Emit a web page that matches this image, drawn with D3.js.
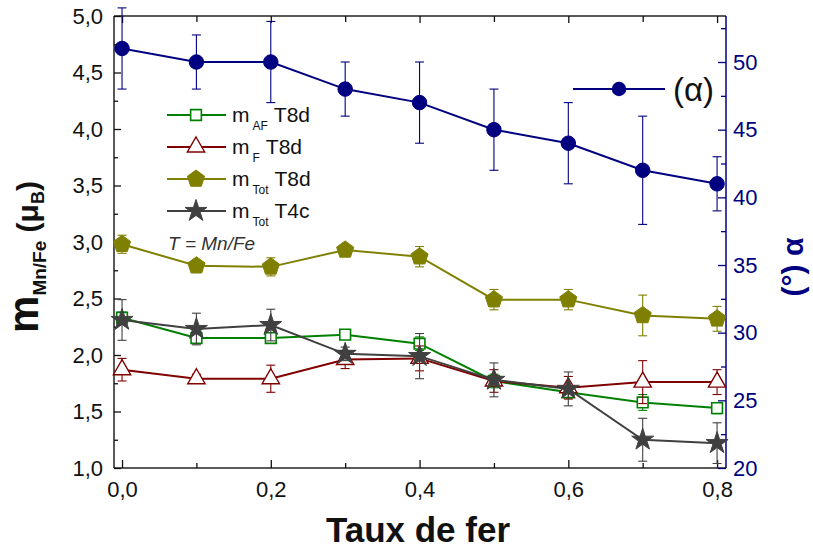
<!DOCTYPE html>
<html><head><meta charset="utf-8">
<script src="https://cdn.jsdelivr.net/npm/d3@7"></script>
<style>
html,body{margin:0;padding:0;background:#fff;}
svg{display:block;font-family:"Liberation Sans",Arial,sans-serif;}
</style></head>
<body><svg id="c" width="813" height="556"></svg>
<script>
// ---- data ----
const fe = [0, 0.1, 0.2, 0.3, 0.4, 0.5, 0.6, 0.7, 0.8];
const alpha = [51, 50, 50, 48, 47, 45, 44, 42, 41];
const alphaErr = [3, 2, 3, 2, 3, 3, 3, 4, 2];
const mAF = [2.33, 2.15, 2.15, 2.18, 2.10, 1.77, 1.67, 1.58, 1.53];
const mAFErr = [0.05, 0.04, 0.04, 0.04, 0.06, 0.06, 0.05, 0.07, 0.05];
const mF = [1.87, 1.79, 1.79, 1.96, 1.97, 1.77, 1.71, 1.76, 1.76];
const mFErr = [0.10, 0.04, 0.12, 0.08, 0.11, 0.10, 0.10, 0.19, 0.11];
const mTot8 = [2.98, 2.79, 2.78, 2.93, 2.87, 2.49, 2.49, 2.35, 2.32];
const mTot8Err = [0.08, 0.05, 0.08, 0.04, 0.09, 0.09, 0.09, 0.18, 0.11];
const mTot4 = [2.31, 2.23, 2.265, 2.01, 1.99, 1.78, 1.70, 1.25, 1.22];
const mTot4Err = [0.18, 0.14, 0.14, 0.06, 0.20, 0.15, 0.15, 0.19, 0.18];
const xMajor = [0, 0.2, 0.4, 0.6, 0.8];
const xMinor = [0.1, 0.3, 0.5, 0.7];
const xTickLabels = ["0,0", "0,2", "0,4", "0,6", "0,8"];
const yLMajor = [1, 1.5, 2, 2.5, 3, 3.5, 4, 4.5, 5];
const yLMinor = [1.25, 1.75, 2.25, 2.75, 3.25, 3.75, 4.25, 4.75];
const yLTickLabels = ["1,0", "1,5", "2,0", "2,5", "3,0", "3,5", "4,0", "4,5", "5,0"];
const yRMajor = [20, 25, 30, 35, 40, 45, 50];
const yRMinor = [22.5, 27.5, 32.5, 37.5, 42.5, 47.5, 52.5];

// ---- setup ----
const svg = d3.select("#c");
const L = 114, R = 726, T = 16, B = 468;
const x = d3.scaleLinear().domain([-0.0108, 0.812]).range([L, R]);
const yL = d3.scaleLinear().domain([1, 5]).range([B, T]);
const yR = d3.scaleLinear().domain([20, 53.4]).range([B, T]);
const NAVY = "#000080";

// frame lines
svg.append("line").attr("x1", L).attr("x2", R).attr("y1", T).attr("y2", T).attr("stroke", "#222").attr("stroke-width", 1.5);
svg.append("line").attr("x1", L).attr("x2", R).attr("y1", B).attr("y2", B).attr("stroke", "#222").attr("stroke-width", 1.5);
svg.append("line").attr("x1", L).attr("x2", L).attr("y1", T).attr("y2", B).attr("stroke", "#222").attr("stroke-width", 1.5);
svg.append("line").attr("x1", R).attr("x2", R).attr("y1", T).attr("y2", B).attr("stroke", NAVY).attr("stroke-width", 1.5);

function styleAxis(g, color, fs) {
  g.select(".domain").remove();
  g.selectAll(".tick line").attr("stroke", color).attr("stroke-width", 1.3);
  g.selectAll(".tick text").attr("fill", color).attr("font-size", fs).attr("font-family", "Liberation Sans, Arial, sans-serif");
}
// bottom
const gb = svg.append("g").attr("transform", `translate(0,${B})`)
  .call(d3.axisBottom(x).tickValues(xMajor).tickSize(-8).tickPadding(13).tickFormat((d, i) => xTickLabels[i]));
styleAxis(gb, "#111", 22);
const gbm = svg.append("g").attr("transform", `translate(0,${B})`)
  .call(d3.axisBottom(x).tickValues(xMinor).tickSize(-5).tickFormat(""));
styleAxis(gbm, "#111", 22);
// top
const gt = svg.append("g").attr("transform", `translate(0,${T})`)
  .call(d3.axisTop(x).tickValues(xMajor).tickSize(-7).tickFormat(""));
styleAxis(gt, "#111", 22);
const gtm = svg.append("g").attr("transform", `translate(0,${T})`)
  .call(d3.axisTop(x).tickValues(xMinor).tickSize(-6).tickFormat(""));
styleAxis(gtm, "#111", 22);
// left
const gl = svg.append("g").attr("transform", `translate(${L},0)`)
  .call(d3.axisLeft(yL).tickValues(yLMajor).tickSize(-7).tickPadding(11).tickFormat((d, i) => yLTickLabels[i]));
styleAxis(gl, "#111", 22);
const glm = svg.append("g").attr("transform", `translate(${L},0)`)
  .call(d3.axisLeft(yL).tickValues(yLMinor).tickSize(-4).tickFormat(""));
styleAxis(glm, "#111", 22);
// right
const gr = svg.append("g").attr("transform", `translate(${R},0)`)
  .call(d3.axisRight(yR).tickValues(yRMajor).tickSize(-8).tickPadding(7).tickFormat(d3.format("d")));
styleAxis(gr, NAVY, 22);
const grm = svg.append("g").attr("transform", `translate(${R},0)`)
  .call(d3.axisRight(yR).tickValues(yRMinor).tickSize(-5).tickFormat(""));
styleAxis(grm, NAVY, 22);

// marker shapes
function pentagonPath(r) {
  const pts = d3.range(5).map(k => {
    const a = -Math.PI / 2 + k * 2 * Math.PI / 5;
    return [r * Math.cos(a), r * Math.sin(a)];
  });
  return d3.line()(pts) + "Z";
}
const markers = {
  square: d3.symbol().type(d3.symbolSquare).size(115)(),
  triangle: d3.symbol().type(d3.symbolTriangle).size(130)(),
  star: d3.symbol().type(d3.symbolStar).size(150)(),
  circle: d3.symbol().type(d3.symbolCircle).size(165)(),
  pentagon: pentagonPath(9)
};

const series = [
  {vals: mAF, err: mAFErr, color: "#008000", marker: "square", fill: "#fff", y: yL, sw: 1.6},
  {vals: mF, err: mFErr, color: "#800000", marker: "triangle", fill: "#fff", y: yL, sw: 1.4},
  {vals: mTot8, err: mTot8Err, color: "#808000", marker: "pentagon", fill: "#808000", y: yL, sw: 1},
  {vals: mTot4, err: mTot4Err, color: "#404040", marker: "star", fill: "#404040", y: yL, sw: 1},
  {vals: alpha, err: alphaErr, color: NAVY, marker: "circle", fill: NAVY, y: yR, sw: 1}
];

series.forEach(s => {
  const g = svg.append("g");
  const data = fe.map((f, i) => ({f, v: s.vals[i], e: s.err[i]}));
  const eb = g.selectAll(".eb").data(data).enter().append("g").attr("stroke", s.color).attr("stroke-width", 1.1);
  eb.append("line").attr("x1", d => x(d.f)).attr("x2", d => x(d.f)).attr("y1", d => s.y(d.v - d.e)).attr("y2", d => s.y(d.v + d.e));
  eb.append("line").attr("x1", d => x(d.f) - 4.5).attr("x2", d => x(d.f) + 4.5).attr("y1", d => s.y(d.v - d.e)).attr("y2", d => s.y(d.v - d.e));
  eb.append("line").attr("x1", d => x(d.f) - 4.5).attr("x2", d => x(d.f) + 4.5).attr("y1", d => s.y(d.v + d.e)).attr("y2", d => s.y(d.v + d.e));
  g.append("path").datum(data).attr("fill", "none").attr("stroke", s.color).attr("stroke-width", 2)
    .attr("d", d3.line().x(d => x(d.f)).y(d => s.y(d.v)));
  g.selectAll(".mk").data(data).enter().append("path")
    .attr("transform", d => `translate(${x(d.f)},${s.y(d.v)})`)
    .attr("d", markers[s.marker]).attr("fill", s.fill).attr("stroke", s.color).attr("stroke-width", s.sw);
});

// legend (left series)
const legNames = [["AF", "T8d"], ["F", "T8d"], ["Tot", "T8d"], ["Tot", "T4c"]];
const legY = [115, 147, 179, 211];
series.slice(0, 4).forEach((s, i) => {
  const g = svg.append("g");
  g.append("line").attr("x1", 167).attr("x2", 226).attr("y1", legY[i]).attr("y2", legY[i]).attr("stroke", s.color).attr("stroke-width", 2);
  g.append("path").attr("transform", `translate(196,${legY[i]})`).attr("d", markers[s.marker])
    .attr("fill", s.fill).attr("stroke", s.color).attr("stroke-width", s.sw);
  const t = g.append("text").attr("x", 232).attr("y", legY[i] + 7).attr("fill", "#111").attr("font-size", 21);
  t.append("tspan").text("m");
  t.append("tspan").attr("font-size", 12).attr("dy", 8).attr("dx", 3).text(legNames[i][0]);
  t.append("tspan").attr("dy", -8).attr("dx", 6).text(legNames[i][1]);
});
svg.append("text").attr("x", 168).attr("y", 250).attr("font-size", 19).attr("font-style", "italic").attr("fill", "#333")
  .text("T = Mn/Fe");

// legend (alpha)
svg.append("line").attr("x1", 573).attr("x2", 665).attr("y1", 89).attr("y2", 89).attr("stroke", NAVY).attr("stroke-width", 2.2);
svg.append("path").attr("transform", "translate(619,89)").attr("d", markers.circle).attr("fill", NAVY);
svg.append("text").attr("x", 673).attr("y", 101).attr("font-size", 33).attr("fill", "#111").text("(α)");

// axis titles
const lt = svg.append("text").attr("transform", "translate(38,257) rotate(-90)").attr("text-anchor", "middle")
  .attr("font-weight", "bold").attr("fill", "#111");
lt.append("tspan").attr("font-size", 42).text("m");
lt.append("tspan").attr("font-size", 19).attr("dy", 8).text("Mn/Fe");
lt.append("tspan").attr("font-size", 30).attr("dy", -8).text(" (μ");
lt.append("tspan").attr("font-size", 18).attr("dy", 6).text("B");
lt.append("tspan").attr("font-size", 30).attr("dy", -6).text(")");

svg.append("text").attr("transform", "translate(803,267) rotate(-90)").attr("text-anchor", "middle")
  .attr("font-weight", "bold").attr("font-size", 30).attr("fill", NAVY).text("(°) α");

svg.append("text").attr("x", 418).attr("y", 542).attr("text-anchor", "middle").attr("font-weight", "bold")
  .attr("font-size", 35).attr("fill", "#111").text("Taux de fer");
</script></body></html>
